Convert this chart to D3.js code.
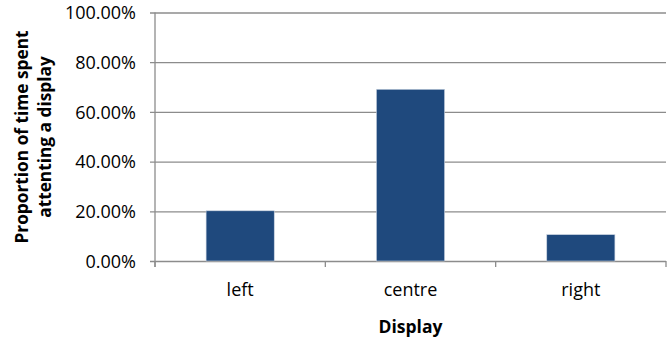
<!DOCTYPE html>
<html>
<head>
<meta charset="utf-8">
<script src="https://cdn.jsdelivr.net/npm/d3@7"></script>
<style>
  html, body { margin: 0; padding: 0; background: #fff; }
  svg { display: block; }
  text { font-family: "Open Sans", "Liberation Sans", sans-serif; fill: #000; }
</style>
</head>
<body>
<svg id="chart" width="672" height="339"></svg>
<script>
// Share of viewing time per display position
const categories = ["left", "centre", "right"];
const proportions = [0.202, 0.691, 0.106];
const yTicks = [0, 0.2, 0.4, 0.6, 0.8, 1.0];

const svg = d3.select("#chart");
const margin = { top: 12.5, right: 6, bottom: 78, left: 155 };
const W = 672, H = 339;
const innerW = W - margin.left - margin.right;
const innerH = H - margin.top - margin.bottom;

const g = svg.append("g").attr("transform", `translate(${margin.left},${margin.top})`);

const x = d3.scaleBand().domain(categories).range([0, innerW]).paddingInner(0).paddingOuter(0);
const y = d3.scaleLinear().domain([0, 1]).range([innerH, 0]);

const gridColor = "#8c8c8c";

// horizontal gridlines with outward tick stubs
const yAxis = d3.axisLeft(y).tickValues(yTicks).tickSize(-innerW).tickPadding(19)
  .tickFormat(d3.format(".2%"));
const ya = g.append("g").call(yAxis);
ya.select(".domain").remove();
ya.selectAll(".tick line").attr("stroke", gridColor).attr("stroke-width", 1.3).attr("x1", -5);
ya.selectAll(".tick text").attr("font-size", 18).attr("dy", "0.35em")
  .style("font-family", "'Open Sans', sans-serif");

// vertical axis line
g.append("line").attr("x1", 0).attr("x2", 0).attr("y1", 0).attr("y2", innerH + 6)
  .attr("stroke", gridColor).attr("stroke-width", 1.3);

// category boundary ticks
const bounds = categories.map(c => x(c)).concat([innerW]);
g.selectAll(".ctick").data(bounds).join("line")
  .attr("x1", d => d).attr("x2", d => d).attr("y1", innerH).attr("y2", innerH + 6)
  .attr("stroke", gridColor).attr("stroke-width", 1.3);

// bars
const barW = x.bandwidth() * 0.4;
g.selectAll(".bar").data(categories).join("rect")
  .attr("x", (d) => x(d) + (x.bandwidth() - barW) / 2)
  .attr("y", (d, i) => y(proportions[i]))
  .attr("width", barW)
  .attr("height", (d, i) => innerH - y(proportions[i]))
  .attr("fill", "#1f497d")
  .attr("stroke", "#c9d3e0").attr("stroke-width", 0.6);

// category labels
g.selectAll(".clabel").data(categories).join("text")
  .attr("x", d => x(d) + x.bandwidth() / 2)
  .attr("y", innerH + 35)
  .attr("text-anchor", "middle")
  .attr("font-size", 18)
  .text(d => d);

// axis titles
svg.append("text")
  .attr("x", margin.left + innerW / 2).attr("y", 333)
  .attr("text-anchor", "middle").attr("font-size", 17.5).attr("font-weight", "bold")
  .text("Display");

const yt = svg.append("text")
  .attr("transform", `translate(0,137) rotate(-90)`)
  .attr("text-anchor", "middle").attr("font-size", 17.3).attr("font-weight", "bold");
yt.append("tspan").attr("x", 0).attr("y", 28).text("Proportion of time spent");
yt.append("tspan").attr("x", 0).attr("y", 51).text("attenting a display");
</script>
</body>
</html>
